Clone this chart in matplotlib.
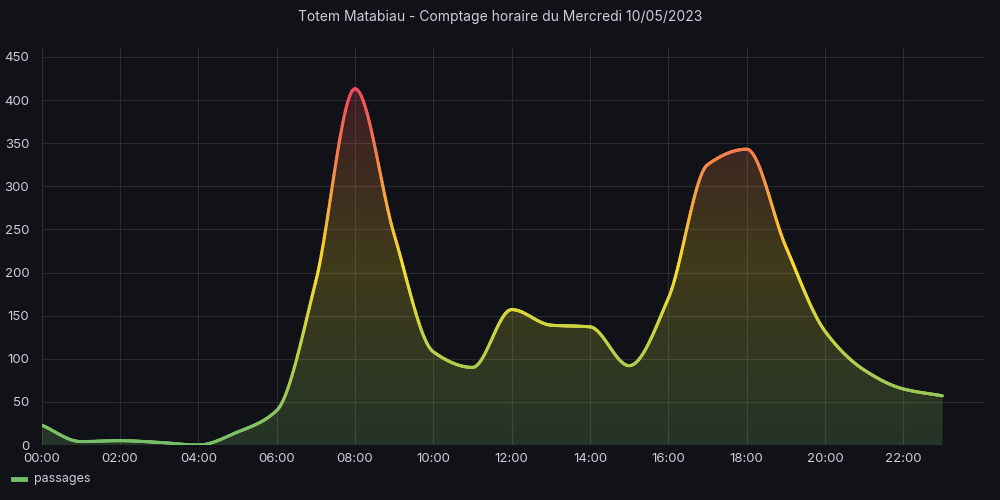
import numpy as np
import matplotlib
matplotlib.use("Agg")
import matplotlib.pyplot as plt
from matplotlib.collections import LineCollection
from matplotlib.colors import LinearSegmentedColormap, Normalize
from matplotlib.lines import Line2D

# ---- data ----
hours = [0, 1, 2, 3, 4, 5, 6, 7, 8, 9, 10, 11, 12, 13, 14, 15, 16, 17, 18, 19, 20, 21, 22, 23]
passages = [23, 4, 5, 3, 0, 15, 40, 190, 413, 244, 108, 90, 157, 139, 137, 92, 170, 325, 343, 230, 132, 87, 65, 57]
tick_hours = [0, 2, 4, 6, 8, 10, 12, 14, 16, 18, 20, 22]
tick_labels = ["00:00", "02:00", "04:00", "06:00", "08:00", "10:00", "12:00",
               "14:00", "16:00", "18:00", "20:00", "22:00"]
y_ticks = [0, 50, 100, 150, 200, 250, 300, 350, 400, 450]
title = "Totem Matabiau - Comptage horaire du Mercredi 10/05/2023"
series_name = "passages"

BG = "#111217"
TXT = "#ccccdc"
GRID = "#2b2c31"

plt.rcParams['font.family'] = ['Inter', 'DejaVu Sans']


def monotone(x, y, xs):
    x = np.asarray(x, float); y = np.asarray(y, float)
    n = len(x)
    h = np.diff(x); d = np.diff(y) / h
    m = np.zeros(n)
    m[0] = d[0]; m[-1] = d[-1]
    for k in range(1, n - 1):
        if d[k - 1] * d[k] <= 0:
            m[k] = 0
        else:
            w1 = 2 * h[k] + h[k - 1]
            w2 = h[k] + 2 * h[k - 1]
            m[k] = (w1 + w2) / (w1 / d[k - 1] + w2 / d[k])
    idx = np.clip(np.searchsorted(x, xs) - 1, 0, n - 2)
    t = (xs - x[idx]) / h[idx]
    h00 = 2 * t**3 - 3 * t**2 + 1
    h10 = t**3 - 2 * t**2 + t
    h01 = -2 * t**3 + 3 * t**2
    h11 = t**3 - t**2
    return h00 * y[idx] + h10 * h[idx] * m[idx] + h01 * y[idx + 1] + h11 * h[idx] * m[idx + 1]


fig = plt.figure(figsize=(10, 5), dpi=100, facecolor=BG)
ax = fig.add_axes([0.0417, 0.11, 0.9419, 0.7934], facecolor=BG)

xs = np.linspace(hours[0], hours[-1], 1200)
ys = monotone(hours, passages, xs)

cmap = LinearSegmentedColormap.from_list("gyr", ["#73BF69", "#FADE2A", "#F2495C"])
vmax = max(passages)
norm = Normalize(0, vmax)

ax.set_xlim(0, 24.05)
ax.set_ylim(0, 460)

# gradient fill clipped to area
grad = np.linspace(0, 460, 400).reshape(-1, 1)
img = ax.imshow(grad, extent=[0, 24.05, 0, 460], origin="lower", aspect="auto",
                cmap=cmap, norm=norm, alpha=0.2, zorder=1)
poly = ax.fill_between(xs, 0, ys, facecolor="none", edgecolor="none")
path = poly.get_paths()[0]
img.set_clip_path(path, transform=ax.transData)

# gradient line
pts = np.column_stack([xs, ys]).reshape(-1, 1, 2)
segs = np.concatenate([pts[:-1], pts[1:]], axis=1)
lc = LineCollection(segs, cmap=cmap, norm=norm, linewidth=2.2, zorder=3, capstyle="round")
lc.set_array((ys[:-1] + ys[1:]) / 2)
ax.add_collection(lc)

ax.set_xticks(tick_hours)
ax.set_xticklabels(tick_labels)
ax.set_yticks(y_ticks)
ax.grid(True, color=GRID, linewidth=0.8, zorder=0)
ax.set_axisbelow(True)
for s in ax.spines.values():
    s.set_visible(False)
ax.tick_params(length=0, colors=TXT, labelsize=9.5, pad=6)
ax.tick_params(axis="y", pad=9)

fig.text(0.5, 0.966, title, ha="center", va="center", color=TXT, fontsize=10)

fig.add_artist(Line2D([0.013, 0.025], [0.042, 0.042], color="#73BF69", linewidth=3.5,
                      transform=fig.transFigure))
fig.text(0.034, 0.042, series_name, ha="left", va="center", color=TXT, fontsize=9)

fig.savefig("out.png", dpi=100, facecolor=BG)
